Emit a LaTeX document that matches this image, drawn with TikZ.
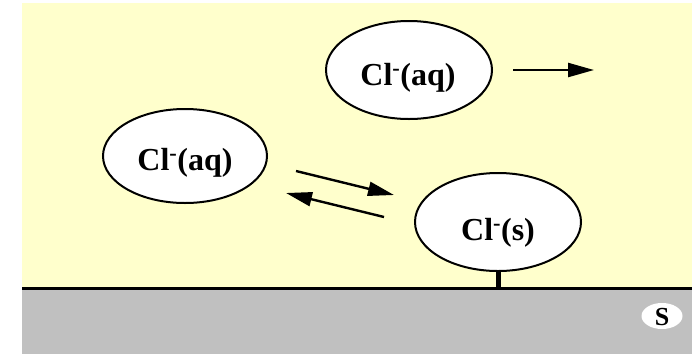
\documentclass[tikz,border=0pt]{standalone}
\usepackage{fontspec}
\setmainfont{Liberation Serif}
\usetikzlibrary{arrows.meta,shapes.geometric}
\definecolor{solution}{HTML}{FFFFCC}
\definecolor{surface}{HTML}{C0C0C0}
\tikzset{
  ionshape/.style={draw=black, line width=2pt, fill=white},
  ionlabel/.style={inner sep=0pt, anchor=base, font=\bfseries\fontsize{32}{34}\selectfont},
  flux/.style={line width=2.4pt, -{Triangle[length=26pt,width=14pt]}}
}
\begin{document}
\begin{tikzpicture}[x=1pt,y=-1pt]
  \useasboundingbox (0,0) rectangle (692,354);
  % solution and solid
  \fill[solution] (22,3) rectangle (692,289);
  \fill[surface] (22,289) rectangle (692,354);
  \draw[line width=3pt] (22,288.5) -- (692,288.5);
  % ions: outline, then label
  \draw[ionshape] (409,70) ellipse [x radius=83, y radius=49];
  \node[ionlabel] (aqtop) at (408,85) {Cl\textsuperscript{-}(aq)};
  \draw[ionshape] (185,156) ellipse [x radius=82, y radius=47];
  \node[ionlabel] (aqleft) at (185,170) {Cl\textsuperscript{-}(aq)};
  % bond of the adsorbed ion to the surface
  \coordinate (bondtop) at (498,266);
  \coordinate (anchor) at (498,288);
  \draw[line width=5pt] (bondtop) -- (anchor);
  \draw[ionshape] (498,222) ellipse [x radius=83, y radius=49];
  \node[ionlabel] (solid) at (498,240) {Cl\textsuperscript{-}(s)};
  % arrows
  \coordinate (t1) at (513,70);
  \coordinate (t2) at (594,70);
  \draw[flux] (t1) -- (t2);
  \coordinate (f1) at (296,171);
  \coordinate (f2) at (394,195);
  \draw[flux] (f1) -- (f2);
  \coordinate (b1) at (384,217);
  \coordinate (b2) at (286,193);
  \draw[flux] (b1) -- (b2);
  % surface label
  \fill[white] (662,316) ellipse [x radius=20.5, y radius=13];
  \node[inner sep=0pt, anchor=base, font=\bfseries\fontsize{26}{27}\selectfont] (s) at (662,325) {S};
\end{tikzpicture}
\end{document}
